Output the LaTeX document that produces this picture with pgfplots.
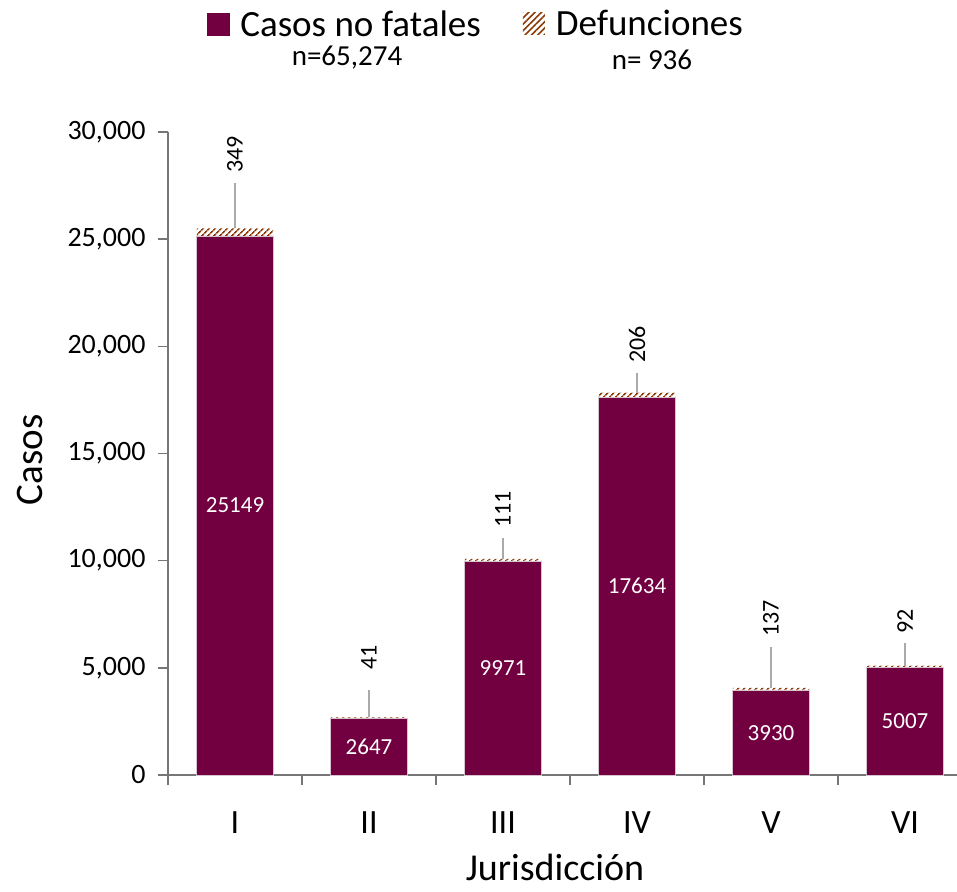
\documentclass[border=0pt]{standalone}
\usepackage{fontspec}
\setmainfont{Carlito}
\usepackage{pgfplots}
\pgfplotsset{compat=1.18}
\usetikzlibrary{patterns.meta}
\definecolor{vino}{RGB}{114,0,64}
\definecolor{cafe}{RGB}{140,58,8}
\definecolor{ejes}{RGB}{118,118,118}
\definecolor{borde}{RGB}{215,195,205}
\definecolor{guia}{RGB}{170,170,170}
\begin{document}
\begin{tikzpicture}
\pgfplotsset{
  base/.style={
    width=789pt, height=643pt, scale only axis,
    xmin=0.5, xmax=6.388, ymin=0, ymax=30000,
  }
}
\begin{axis}[base, clip=false,
  ybar stacked, bar width=0.57,
  axis x line*=bottom, axis y line*=left,
  axis line style={ejes, line width=1.5pt},
  tick align=outside, major tick length=10pt,
  tick style={ejes, line width=1.5pt},
  xtick={0.5,1.5,...,5.5}, xticklabels={},
  extra x ticks={1,2,3,4,5,6},
  extra x tick labels={I,II,III,IV,V,VI},
  extra x tick style={tick style={draw=none}},
  xticklabel style={font=\fontsize{34}{40}\selectfont, anchor=base, yshift=-48pt},
  scaled y ticks=false,
  ytick={0,5000,10000,15000,20000,25000,30000},
  yticklabels={0,{5,000},{10,000},{15,000},{20,000},{25,000},{30,000}},
  yticklabel style={font=\fontsize{28}{34}\selectfont, xshift=-9pt},
  xlabel={Jurisdicción}, ylabel={Casos},
  xlabel style={font=\fontsize{38}{44}\selectfont, at={(axis description cs:0.4905,-0.1635)}, anchor=base},
  ylabel style={font=\fontsize{39}{44}\selectfont, at={(axis description cs:-0.175,0.49)}, anchor=center, rotate=0},
  legend style={at={(axis description cs:0.39,1.168)}, anchor=center, draw=none, fill=none,
    font=\fontsize{37}{42}\selectfont, inner sep=0pt,
    /tikz/every odd column/.append style={column sep=9pt},
    /tikz/every even column/.append style={column sep=40pt}},
  legend columns=2,
  legend cell align=left,
]
\addplot[fill=vino, draw=borde, line width=0.8pt,
  legend image code/.code={\fill[vino] (0pt,-11pt) rectangle (22pt,11pt);}]
  coordinates {(1,25149) (2,2647) (3,9971) (4,17634) (5,3930) (6,5007)};
\addlegendentry{Casos no fatales}
\addplot[pattern={Lines[angle=45, distance=4pt, line width=1.7pt]}, pattern color=cafe, draw=none,
  legend image code/.code={\fill[pattern={Lines[angle=45, distance=4.5pt, line width=1.6pt]}, pattern color=cafe] (0pt,-11pt) rectangle (22pt,11pt);}]
  coordinates {(1,349) (2,41) (3,111) (4,206) (5,137) (6,92)};
\addlegendentry{Defunciones}
\node[font=\fontsize{29}{34}\selectfont] at (axis description cs:0.2269,1.1151) {n=65,274};
\node[font=\fontsize{29}{34}\selectfont] at (axis description cs:0.6134,1.112) {n= 936};
\end{axis}
\begin{axis}[base, hide axis]
\addplot[guia, line width=1.5pt] coordinates {(1,25498) (1,27620)};
\addplot[guia, line width=1.5pt] coordinates {(2,2688) (2,3966)};
\addplot[guia, line width=1.5pt] coordinates {(3,10082) (3,11057)};
\addplot[guia, line width=1.5pt] coordinates {(4,17840) (4,18756)};
\addplot[guia, line width=1.5pt] coordinates {(5,4067) (5,5972)};
\addplot[guia, line width=1.5pt] coordinates {(6,5099) (6,6159)};
\addplot[draw=none, mark=none, nodes near coords, point meta=explicit symbolic,
  every node near coord/.append style={rotate=90, anchor=west, inner sep=0pt, font=\fontsize{24}{28}\selectfont}]
  table[meta=lab] {
x y lab
1 28087 349
2 4899 41
3 11524 111
4 19222 206
5 6439 137
6 6578 92
};
\addplot[draw=none, mark=none, nodes near coords, point meta=explicit symbolic,
  every node near coord/.append style={anchor=center, text=white, inner sep=0pt, font=\fontsize{23}{28}\selectfont}]
  table[meta=lab] {
x y lab
1 12574 25149
2 1323 2647
3 4985 9971
4 8817 17634
5 1965 3930
6 2503 5007
};
\end{axis}
\pgfresetboundingbox
\path[use as bounding box] (current axis.south west) ++(-168pt,-116pt) rectangle ++(957pt,891pt);
\end{tikzpicture}
\end{document}
